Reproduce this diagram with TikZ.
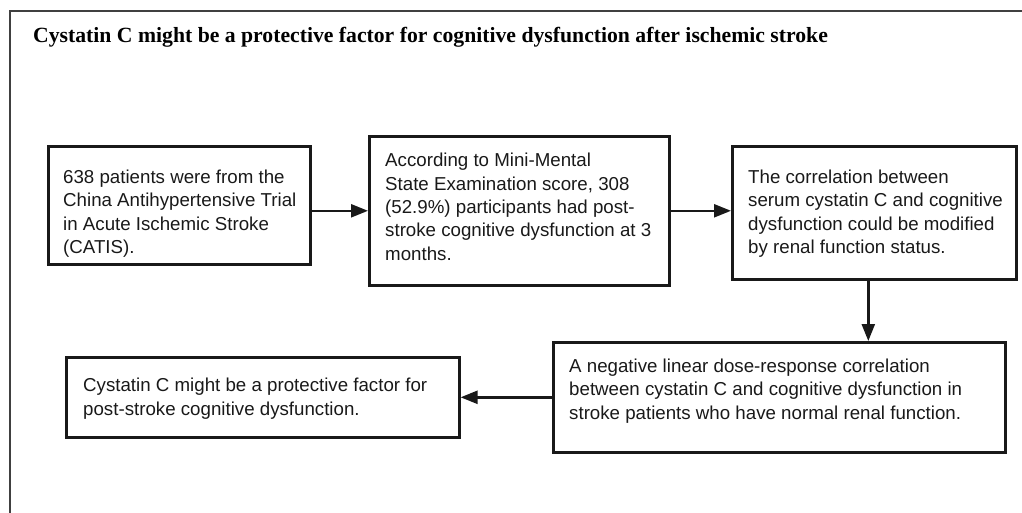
\documentclass[tikz,border=0pt]{standalone}
\usepackage{fontspec}
\setmainfont{Liberation Serif}
\newfontfamily\bodyfont{Liberation Sans}
\usetikzlibrary{arrows.meta,calc}
\tikzset{
  box/.style={draw=black!90, line width=2.6pt, anchor=north west, inner sep=0pt},
  txt/.style={anchor=north west, inner sep=0pt, align=left, text=black!90,
    font=\bodyfont\fontsize{18.7}{23.4}\selectfont},
  arr/.style={draw=black!90, line width=2.4pt, -{Triangle[length=17pt,width=13pt]}},
  frame/.style={draw=black!75, line width=1.8pt}
}
\begin{document}
\begin{tikzpicture}[x=1pt,y=-1pt]
\useasboundingbox (0,0) rectangle (1022,513);
\draw[frame] (1022,11) -- (10,11) -- (10,513);
\node[anchor=base west, inner sep=0pt, font=\bfseries\fontsize{21.7}{26}\selectfont] (title) at (33,43)
  {Cystatin C might be a protective factor for cognitive dysfunction after ischemic stroke};

\node[box, minimum width=262pt, minimum height=118pt] (b1) at (47,145) {};
\node[box, minimum width=300pt, minimum height=149pt] (b2) at (368,135) {};
\node[box, minimum width=284pt, minimum height=133pt] (b3) at (731,145) {};
\node[box, minimum width=452pt, minimum height=110pt] (b4) at (552,341) {};
\node[box, minimum width=393pt, minimum height=80pt] (b5) at (65,356) {};

\node[txt] (t1) at (63,169.5) {638 patients were from the\\China Antihypertensive Trial\\in Acute Ischemic Stroke\\(CATIS).};
\node[txt] (t2) at (385,153) {According to Mini-Mental\\State Examination score, 308\\(52.9\%) participants had post-\\stroke cognitive dysfunction at 3\\months.};
\node[txt] (t3) at (748,169.5) {The correlation between\\serum cystatin C and cognitive\\dysfunction could be modified\\by renal function status.};
\node[txt] (t4) at (569,358.5) {A negative linear dose-response correlation\\between cystatin C and cognitive dysfunction in\\stroke patients who have normal renal function.};
\node[txt] (t5) at (83,378) {Cystatin C might be a protective factor for\\post-stroke cognitive dysfunction.};

\draw[arr] (b2.west -| b1.east) -- (b2.west);
\draw[arr] (b2.east) -- (b2.east -| b3.west);
\coordinate (d1) at ($(b3.south)+(-6,0)$);
\draw[arr] (d1) -- (d1 |- b4.north);
\draw[arr] (b4.west) -- (b5.east);
\end{tikzpicture}
\end{document}
